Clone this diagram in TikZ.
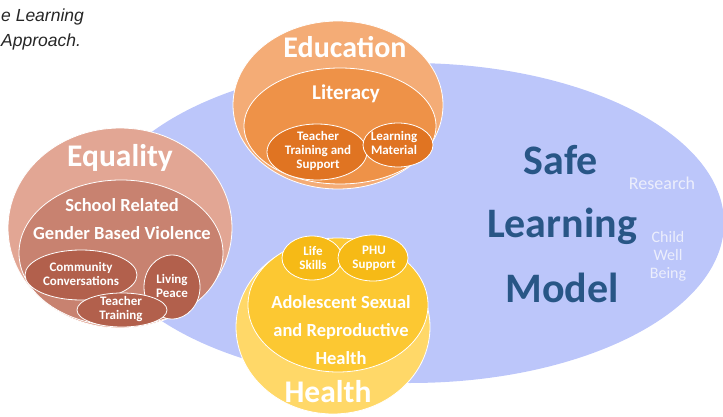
\documentclass[tikz,border=0pt]{standalone}
\usepackage{fontspec}
\setmainfont{Carlito}
\newfontfamily\helv{Liberation Sans}
\definecolor{blueback}{RGB}{188,198,250}
\definecolor{eduA}{RGB}{244,172,118}
\definecolor{eduB}{RGB}{238,146,72}
\definecolor{eduC}{RGB}{224,116,34}
\definecolor{eqA}{RGB}{226,166,148}
\definecolor{eqB}{RGB}{200,130,112}
\definecolor{eqC}{RGB}{178,96,76}
\definecolor{heA}{RGB}{255,216,104}
\definecolor{heB}{RGB}{252,200,50}
\definecolor{heC}{RGB}{246,186,22}
\definecolor{slm}{RGB}{40,86,134}
\definecolor{lighttxt}{RGB}{236,238,252}
\tikzset{
  blob/.style={draw=white, line width=0.8pt},
  wtxt/.style={text=white, font=\bfseries, align=center},
  bigw/.style={wtxt, font=\bfseries\fontsize{31.5}{34}\selectfont},
  midw/.style={wtxt, font=\bfseries\fontsize{18.5}{28}\selectfont},
  smw/.style={wtxt, font=\bfseries\fontsize{13}{14}\selectfont},
  slmtxt/.style={text=slm, font=\bfseries\fontsize{42}{50}\selectfont},
  lt/.style={text=lighttxt, font=\fontsize{18}{18}\selectfont, align=center},
  captxt/.style={font=\helv\itshape\fontsize{17.5}{19}\selectfont, text=black!85}
}
\begin{document}
\begin{tikzpicture}[x=1pt,y=-1pt]
\useasboundingbox (0,0) rectangle (723,417);
% top-left caption
\node[captxt, anchor=base west, inner sep=0pt] (cap1) at (1,22) {e Learning};
\node[captxt, anchor=base west, inner sep=0pt] (cap2) at (1,47) {Approach.};
% big blue ellipse
\fill[blueback] (410,223) ellipse [x radius=314, y radius=160];
% Safe Learning Model
\node[slmtxt] (safe) at (561,160) {Safe};
\node[slmtxt] (learn) at (562,226) {Learning};
\node[slmtxt] (model) at (562,288) {Model};
\node[lt] (research) at (662,183) {Research};
\node[lt, font=\fontsize{16}{18}\selectfont] (cwb) at (668,256) {Child\\Well\\Being};
% Education
\draw[blob, fill=eduA] (338,105) ellipse [x radius=105, y radius=84];
\draw[blob, fill=eduB] (340,126) ellipse [x radius=96, y radius=58];
\draw[blob, fill=eduC] (317,152) ellipse [x radius=50, y radius=28];
\draw[blob, fill=eduC] (398,145) ellipse [x radius=35, y radius=22];
\node[bigw, font=\bfseries\fontsize{30}{34}\selectfont] (edu) at (345,47) {Education};
\node[midw, font=\bfseries\fontsize{21}{24}\selectfont] (lit) at (346,94) {Literacy};
\node[smw] (tts) at (318,151) {Teacher\\Training and\\Support};
\node[smw] (lm) at (394,143) {Learning\\Material};
% Equality
\draw[blob, fill=eqA] (120,228) ellipse [x radius=112, y radius=100];
\draw[blob, fill=eqB] (121,253) ellipse [x radius=102, y radius=73];
\draw[blob, fill=eqC] (81,275) ellipse [x radius=56, y radius=25];
\draw[blob, fill=eqC] (172,287) ellipse [x radius=28, y radius=32];
\draw[blob, fill=eqC] (122,310) ellipse [x radius=45, y radius=17];
\node[bigw] (eq) at (120,158) {Equality};
\node[midw] (srgbv) at (122,219) {School Related\\Gender Based Violence};
\node[smw] (cc) at (81,274) {Community\\Conversations};
\node[smw] (lp) at (172,286) {Living\\Peace};
\node[smw] (tt) at (121,309) {Teacher\\Training};
% Health
\draw[blob, fill=heA] (333,327) ellipse [x radius=97, y radius=87];
\draw[blob, fill=heB] (338,305) ellipse [x radius=90, y radius=67];
\draw[blob, fill=heC] (312,258) ellipse [x radius=30, y radius=22];
\draw[blob, fill=heC] (373,258) ellipse [x radius=35, y radius=23];
\node[midw] (asrh) at (341,330) {Adolescent Sexual\\and Reproductive\\Health};
\node[bigw] (health) at (328,392) {Health};
\node[smw] (ls) at (313,258) {Life\\Skills};
\node[smw] (phu) at (374,258) {PHU\\Support};
\end{tikzpicture}
\end{document}
